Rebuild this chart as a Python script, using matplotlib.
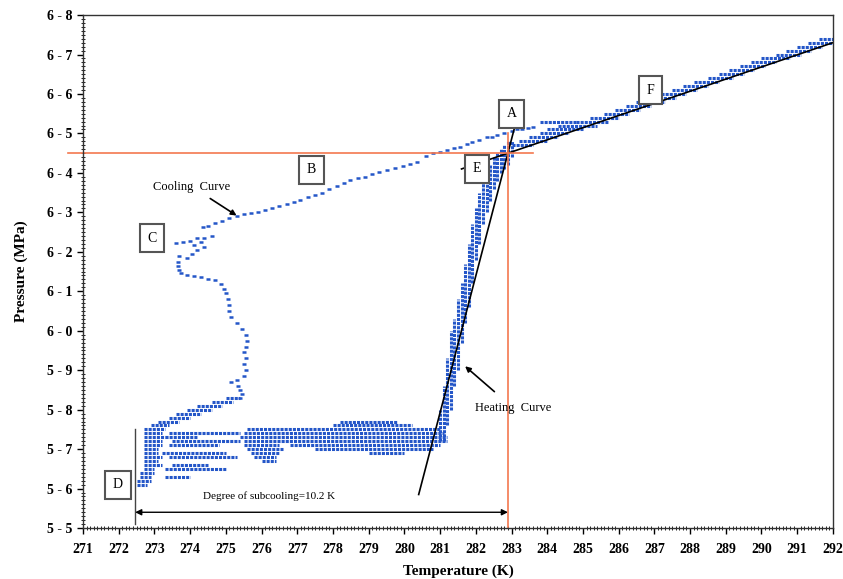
import matplotlib
matplotlib.use("Agg")
import matplotlib.pyplot as plt
from matplotlib.ticker import MultipleLocator, FuncFormatter

plt.rcParams['font.family'] = ['Liberation Serif', 'DejaVu Serif']

BLUE = '#2456c8'
ORANGE = '#f4784f'

# sparse cooling curve readings (T in K, P in MPa): A -> B -> C -> D
cool_T = [283.6, 283.45, 283.3, 283.15, 283.0, 282.8, 282.6, 282.45, 282.3, 282.1,
          281.9, 281.75, 281.56, 281.4, 281.2, 281.0, 280.8, 280.6, 280.36, 280.15,
          279.95, 279.75, 279.5, 279.3, 279.1, 278.9, 278.7, 278.48, 278.3, 278.1,
          277.9, 277.7, 277.5, 277.3, 277.08, 276.9, 276.7, 276.5, 276.3, 276.1,
          275.9, 275.7, 275.5, 275.3, 275.1, 274.9, 274.7, 274.5, 274.35,
          274.6, 274.4, 274.2, 274.0, 273.8, 273.6, 274.3, 274.1, 274.4,
          274.2, 274.05, 273.9, 273.7, 273.65, 273.65, 273.7, 273.75,
          273.9, 274.1, 274.3, 274.5, 274.7, 274.85, 274.95, 275.0,
          275.05, 275.1, 275.1, 275.15, 275.3, 275.45, 275.55, 275.6,
          275.55, 275.5, 275.55, 275.5, 275.55, 275.5, 275.3, 275.15,
          275.35, 275.4, 275.45, 275.4]
cool_P = [6.516, 6.514, 6.512, 6.51, 6.505, 6.50, 6.495, 6.492, 6.49, 6.484,
          6.478, 6.472, 6.466, 6.462, 6.458, 6.454, 6.45, 6.442, 6.428, 6.423,
          6.418, 6.413, 6.408, 6.403, 6.396, 6.39, 6.386, 6.382, 6.374, 6.366,
          6.358, 6.35, 6.344, 6.338, 6.332, 6.326, 6.322, 6.316, 6.31, 6.306,
          6.302, 6.298, 6.295, 6.292, 6.286, 6.279, 6.272, 6.266, 6.262,
          6.24, 6.235, 6.235, 6.228, 6.225, 6.222, 6.225, 6.218, 6.212,
          6.205, 6.195, 6.185, 6.19, 6.175, 6.165, 6.155, 6.147,
          6.14, 6.138, 6.136, 6.132, 6.128, 6.118, 6.105, 6.095,
          6.08, 6.065, 6.05, 6.035, 6.02, 6.005, 5.99, 5.975,
          5.96, 5.945, 5.93, 5.915, 5.90, 5.885, 5.875, 5.87,
          5.86, 5.85, 5.84, 5.83]

# dense readings as rows: (P, T_start, T_end)
rows = [
    # descending branch into D
    (5.83, 275.0, 275.4), (5.82, 274.6, 275.2), (5.81, 274.2, 274.9),
    (5.80, 273.9, 274.6), (5.79, 273.6, 274.3), (5.78, 273.4, 274.0),
    (5.77, 273.1, 273.7), (5.76, 272.9, 273.4),
    # left block near D
    (5.75, 272.7, 273.3), (5.74, 272.7, 273.2), (5.73, 272.7, 273.3),
    (5.72, 272.7, 273.2), (5.71, 272.7, 273.2), (5.70, 272.7, 273.1),
    (5.69, 272.7, 273.1), (5.68, 272.7, 273.2), (5.67, 272.7, 273.1),
    (5.66, 272.7, 273.2), (5.65, 272.7, 273.0), (5.64, 272.6, 273.0),
    (5.63, 272.6, 272.9), (5.62, 272.5, 272.9), (5.61, 272.5, 272.8),
    # strands from D to the plateau
    (5.74, 273.4, 275.4), (5.73, 273.3, 274.2), (5.72, 273.5, 275.4),
    (5.71, 273.4, 274.8), (5.69, 273.2, 275.0), (5.68, 273.4, 275.3),
    (5.66, 273.5, 274.5), (5.65, 273.3, 275.0), (5.63, 273.3, 274.0),
    # heating plateau
    (5.77, 278.2, 279.8), (5.76, 278.0, 280.2), (5.75, 275.6, 281.0),
    (5.74, 275.5, 281.1), (5.73, 275.4, 281.2), (5.72, 275.5, 281.2),
    (5.71, 275.5, 276.5), (5.71, 276.8, 281.0), (5.70, 275.6, 276.6),
    (5.70, 277.5, 280.8), (5.69, 275.7, 276.5), (5.69, 279.0, 280.0),
    (5.68, 275.8, 276.4), (5.67, 276.0, 276.4),
    # after melting, along line E-F
    (6.47, 283.0, 283.6), (6.48, 283.2, 284.0), (6.49, 283.5, 284.3),
    (6.50, 283.8, 284.6), (6.51, 284.0, 285.0), (6.52, 284.3, 285.4),
    (6.53, 283.8, 284.8), (6.53, 284.8, 285.7), (6.54, 285.2, 286.0),
    (6.55, 285.6, 286.3), (6.56, 285.9, 286.6), (6.57, 286.2, 286.9),
    (6.58, 286.5, 287.3), (6.59, 286.9, 287.6), (6.60, 287.2, 287.9),
    (6.61, 287.5, 288.2), (6.62, 287.8, 288.5), (6.63, 288.1, 288.8),
    (6.64, 288.5, 289.2), (6.65, 288.8, 289.5), (6.66, 289.1, 289.8),
    (6.67, 289.4, 290.1), (6.68, 289.7, 290.4), (6.69, 290.0, 290.8),
    (6.70, 290.4, 291.1), (6.71, 290.7, 291.4), (6.72, 291.0, 291.7),
    (6.73, 291.3, 292.0), (6.74, 291.6, 292.0),
]

# heating curve rise as columns: (T, P_start, P_end)
cols = [
    (281.0, 5.72, 5.80), (281.1, 5.72, 5.86), (281.2, 5.76, 5.93),
    (281.3, 5.80, 6.00), (281.4, 5.86, 6.03), (281.5, 5.90, 6.08),
    (281.6, 5.97, 6.12), (281.7, 6.02, 6.17), (281.8, 6.06, 6.22),
    (281.9, 6.12, 6.27), (282.0, 6.18, 6.31), (282.1, 6.22, 6.35),
    (282.2, 6.27, 6.38), (282.3, 6.30, 6.40), (282.4, 6.33, 6.42),
    (282.5, 6.36, 6.44), (282.6, 6.38, 6.45), (282.7, 6.40, 6.46),
    (282.8, 6.41, 6.47), (282.9, 6.42, 6.48), (283.0, 6.44, 6.48),
]

# fitted lines
steep_T = [280.4, 283.1]
steep_P = [5.585, 6.52]
melt_T = [281.6, 292.0]
melt_P = [6.41, 6.73]

# reference points
P_dissociation = 6.45
T_dissociation = 282.9
T_subcool = 272.46

labels = {'A': (283.0, 6.55), 'B': (277.4, 6.408), 'C': (272.93, 6.235),
          'D': (271.98, 5.61), 'E': (282.04, 6.41), 'F': (286.88, 6.61)}

fig = plt.figure(figsize=(8.43, 5.79), dpi=100)
ax = fig.add_axes([0.0985, 0.088, 0.8895, 0.886])

for P, t0, t1 in rows:
    ax.hlines(P, t0, t1, colors=BLUE, lw=2.2, linestyles=(0, (1.0, 0.35)))
for T, p0, p1 in cols:
    ax.vlines(T, p0, p1, colors=BLUE, lw=2.2, linestyles=(0, (1.0, 0.35)))
ax.plot(cool_T, cool_P, ls='none', marker='_', ms=2.7, mew=1.8, color=BLUE)

ax.plot(steep_T, steep_P, color='black', lw=1.2)
ax.plot(melt_T, melt_P, color='black', lw=1.2)

ax.plot([270.58, 283.6], [P_dissociation, P_dissociation], color=ORANGE, lw=1.2, clip_on=False)
ax.plot([T_dissociation, T_dissociation], [5.5, 6.50], color=ORANGE, lw=1.2)

ax.plot([T_subcool, T_subcool], [5.51, 5.75], color='#444444', lw=1)
ax.annotate('', xy=(T_dissociation, 5.54), xytext=(T_subcool, 5.54),
            arrowprops=dict(arrowstyle='<|-|>', color='black', lw=1,
                            shrinkA=0, shrinkB=0, mutation_scale=9))
ax.text(276.2, 5.58, 'Degree of subcooling=10.2 K', fontsize=8, ha='center', va='center')

ax.annotate('Cooling  Curve', xy=(275.3, 6.292), xytext=(274.05, 6.365),
            fontsize=9, ha='center', va='center',
            arrowprops=dict(arrowstyle='-|>', color='black', lw=1.2,
                            shrinkA=4, shrinkB=0, mutation_scale=8))
ax.annotate('Heating  Curve', xy=(281.7, 5.91), xytext=(283.04, 5.805),
            fontsize=9, ha='center', va='center',
            arrowprops=dict(arrowstyle='-|>', color='black', lw=1.2,
                            shrinkA=8, shrinkB=0, mutation_scale=8))

for name, (T, P) in labels.items():
    ax.text(T, P, name, fontsize=10, ha='center', va='center',
            bbox=dict(boxstyle='square,pad=0.55', fc='white', ec='#555555', lw=1.5))

ax.set_xlim(271, 292)
ax.set_ylim(5.5, 6.8)
ax.xaxis.set_major_locator(MultipleLocator(1))
ax.xaxis.set_minor_locator(MultipleLocator(0.1))
ax.yaxis.set_major_locator(MultipleLocator(0.1))
ax.yaxis.set_minor_locator(MultipleLocator(0.01))
ax.yaxis.set_major_formatter(FuncFormatter(lambda v, p: f'{v:.1f}'.replace('.', ' - ')))
ax.tick_params(which='major', direction='out', length=4, width=1, labelsize=10)
ax.tick_params(axis='x', which='major', pad=7)
ax.tick_params(which='minor', direction='inout', length=3, width=0.6)
for lab in ax.get_xticklabels() + ax.get_yticklabels():
    lab.set_fontweight('bold')
for s in ax.spines.values():
    s.set_linewidth(1)
    s.set_color('#333333')

ax.set_xlabel('Temperature (K)', fontsize=11, fontweight='bold', labelpad=6)
ax.set_ylabel('Pressure (MPa)', fontsize=11, fontweight='bold', labelpad=14)

fig.savefig('out.png', dpi=100)
